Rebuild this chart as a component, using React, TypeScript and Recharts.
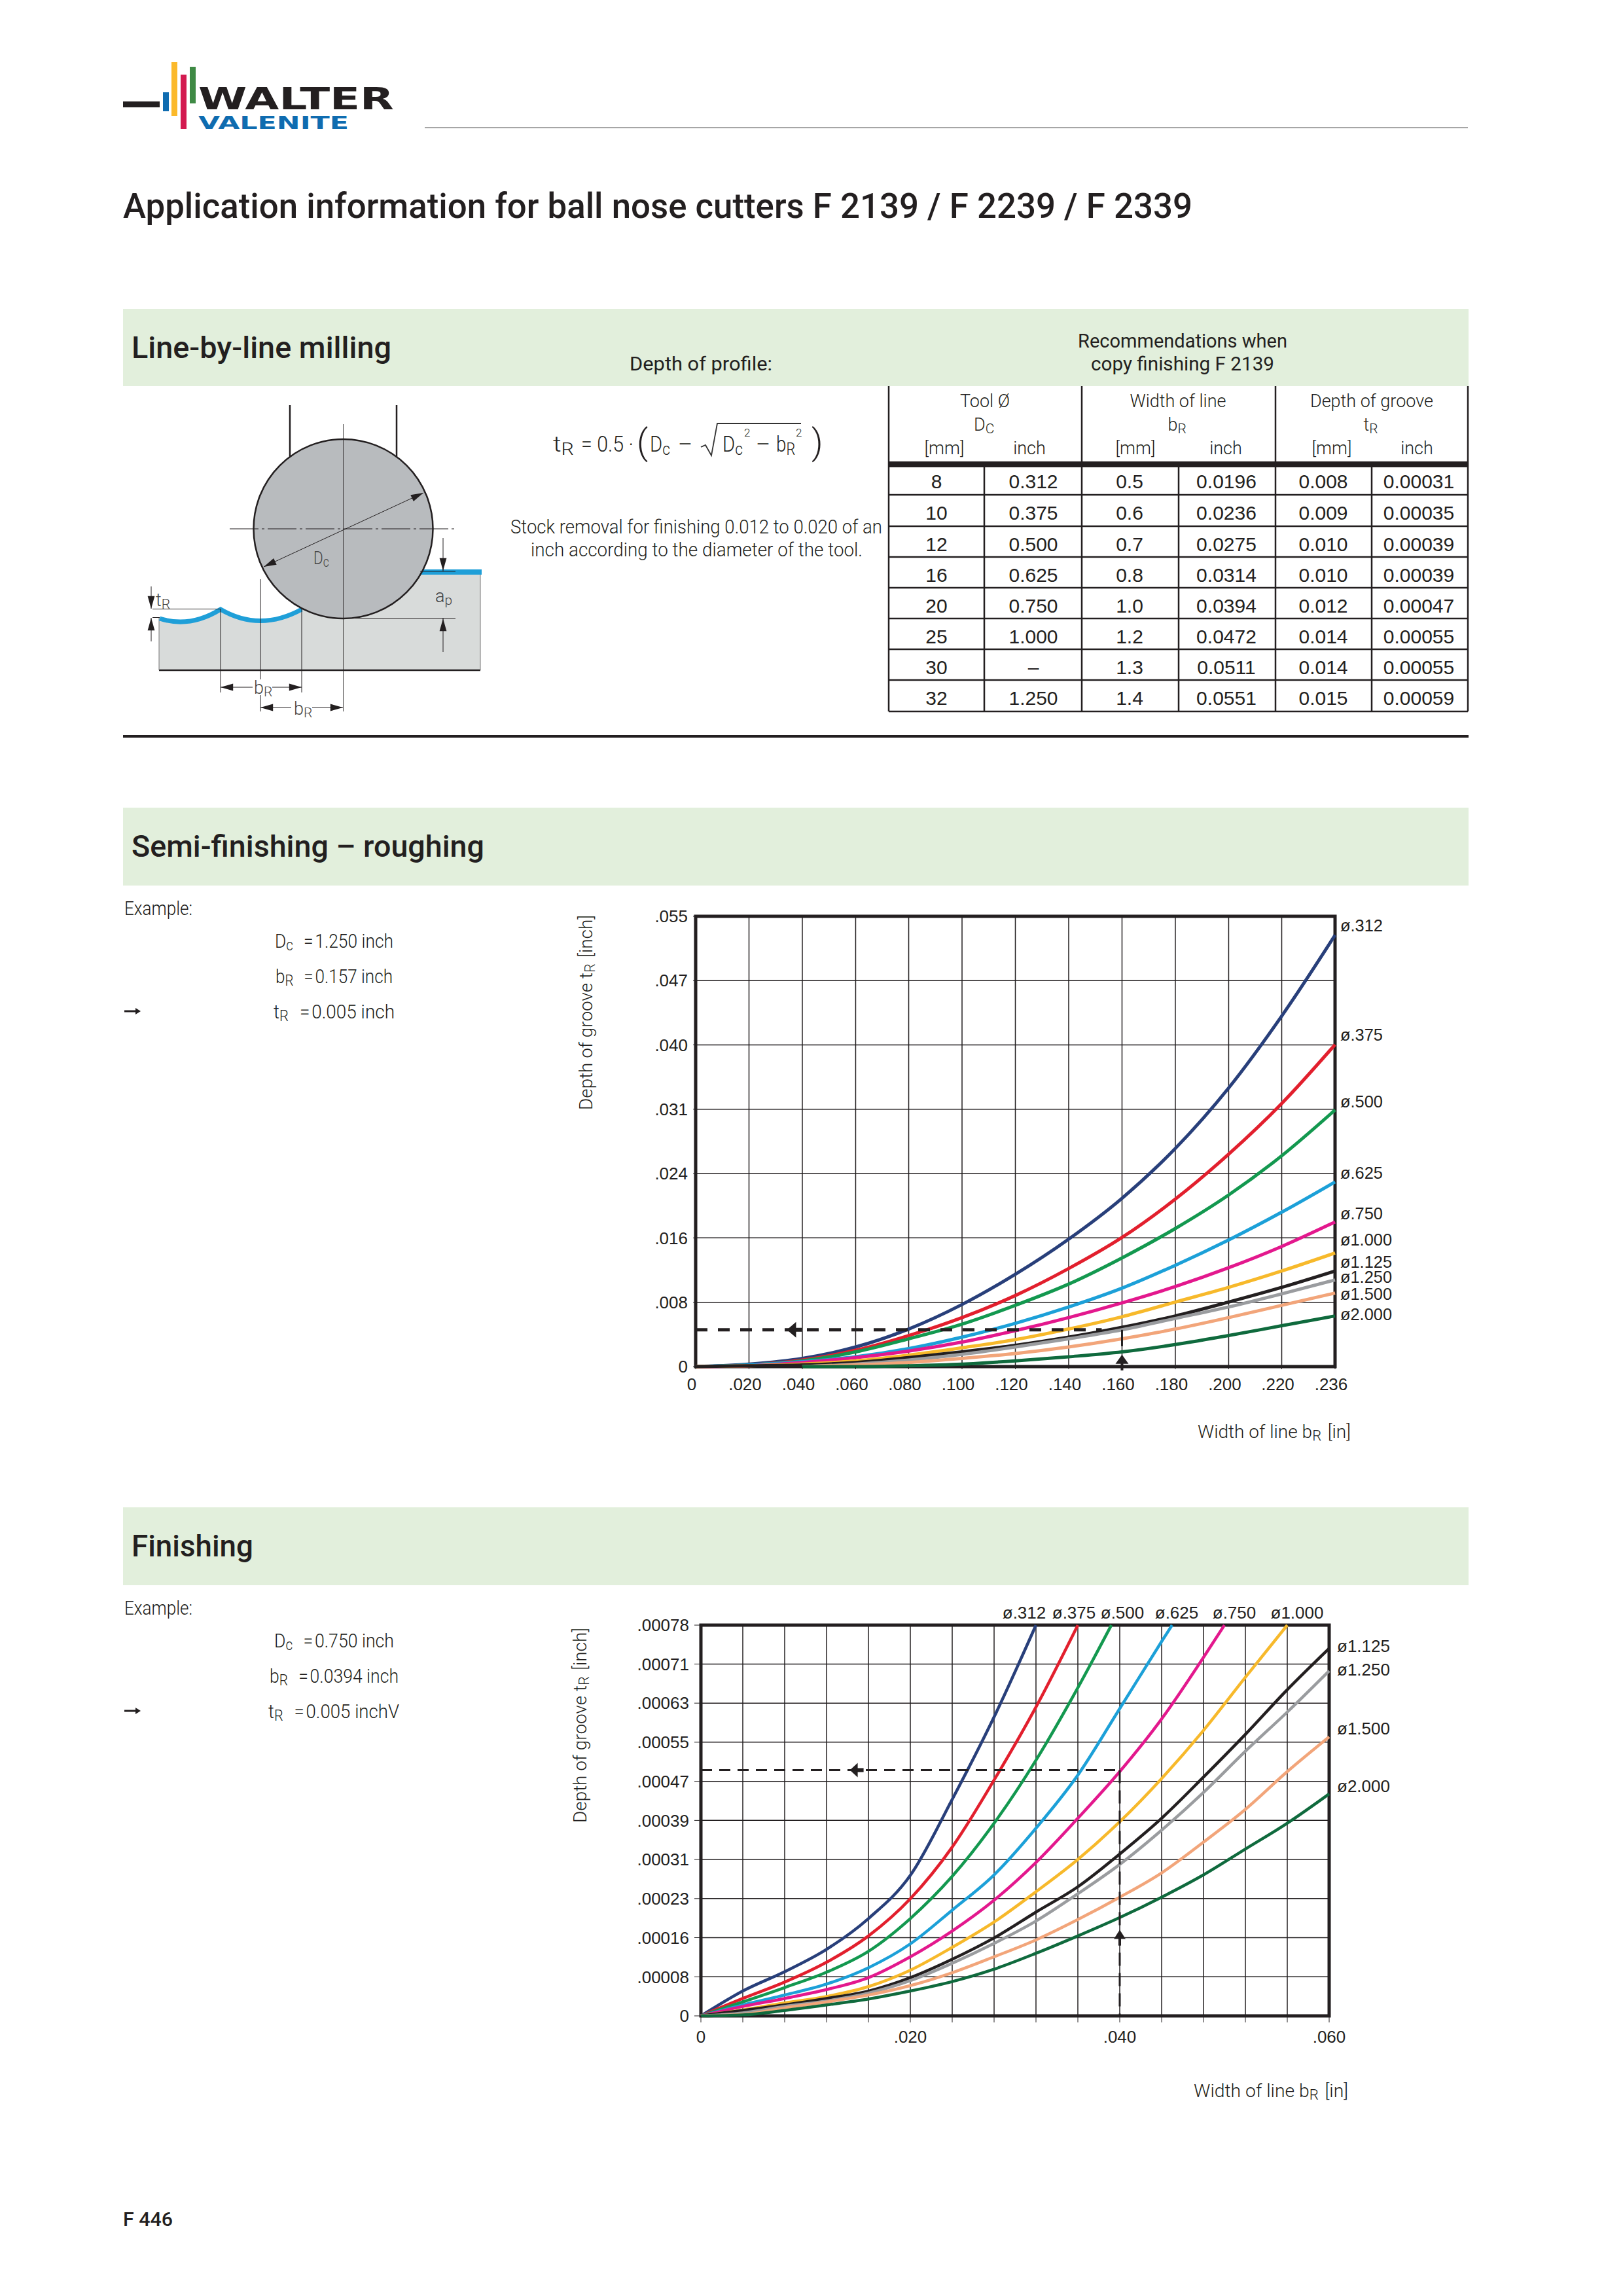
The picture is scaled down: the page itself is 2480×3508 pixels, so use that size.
import React from "react";
import {
  LineChart,
  Line,
  XAxis,
  YAxis,
  CartesianGrid,
  ReferenceArea,
  ReferenceLine,
  ReferenceDot,
} from "recharts";

const INK = "#231f20";
const BODY = "Roboto, sans-serif";
const NUM = "'Liberation Sans', Arial, sans-serif";

const curveNames = [".312", ".375", ".500", ".625", ".750", "1.000", "1.125", "1.250", "1.500", "2.000"];
const curveColors = ["#283f7a", "#e21f2d", "#13984f", "#1ca0d8", "#e3188d", "#f7b92b", "#231f20", "#9a9c9f", "#f2a57a", "#0f6a3d"];

// Semi-finishing chart, inch values read at each grid line
const semiX = [0, 0.0197, 0.0394, 0.0591, 0.0787, 0.0984, 0.1181, 0.1378, 0.1575, 0.1772, 0.1969, 0.2165, 0.2362];
const semiXLabels = ["0", ".020", ".040", ".060", ".080", ".100", ".120", ".140", ".160", ".180", ".200", ".220", ".236"];
const semiYTicks = [0, 0.00787, 0.01575, 0.02362, 0.0315, 0.03937, 0.04724, 0.0551];
const semiYLabels = ["0", ".008", ".016", ".024", ".031", ".040", ".047", ".055"];

const _ = null;
const semi312 = [0, 0.0003, 0.001, 0.0024, 0.0046, 0.0076, 0.0113, 0.0156, 0.0206, 0.0267, 0.0341, 0.0429, 0.0528];
const semi375 = [0, 0.0002, 0.0008, 0.002, 0.0038, 0.006, 0.0087, 0.012, 0.0158, 0.0205, 0.026, 0.0322, 0.0394];
const semi500 = [0, 0.0002, 0.0007, 0.0018, 0.0034, 0.0052, 0.0075, 0.0101, 0.0133, 0.0169, 0.021, 0.0258, 0.0314];
const semi625 = [0, 0.0002, 0.0006, 0.0012, 0.0022, 0.0036, 0.0053, 0.0073, 0.0096, 0.0124, 0.0155, 0.0189, 0.0226];
const semi750 = [0, 0.0001, 0.0005, 0.0011, 0.0019, 0.003, 0.0044, 0.006, 0.0078, 0.0098, 0.0121, 0.0147, 0.0177];
const semi1000 = [0, 0.0001, 0.0003, 0.0007, 0.0014, 0.0023, 0.0033, 0.0046, 0.0061, 0.0079, 0.0097, 0.0117, 0.0139];
const semi1125 = [0, 0.0001, 0.0002, 0.0005, 0.0011, 0.0018, 0.0026, 0.0036, 0.0048, 0.0062, 0.0079, 0.0097, 0.0117];
const semi1250 = [_, _, 0, 0.0003, 0.0008, 0.0015, 0.0024, 0.0034, 0.0045, 0.0059, 0.0073, 0.0089, 0.0106];
const semi1500 = [_, _, 0, 0.0002, 0.0005, 0.001, 0.0016, 0.0024, 0.0034, 0.0046, 0.006, 0.0075, 0.009];
const semi2000 = [_, _, 0, 0, 0.0001, 0.0003, 0.0007, 0.0012, 0.0018, 0.0027, 0.0038, 0.005, 0.0062];
const semiSeries = [semi312, semi375, semi500, semi625, semi750, semi1000, semi1125, semi1250, semi1500, semi2000];

// Finishing chart: curves stop where they leave the top of the plot, so the x list has a few extra stops
const finishX = [0, 0.004, 0.008, 0.012, 0.016, 0.02, 0.024, 0.028, 0.032, 0.036, 0.0392, 0.04, 0.044, 0.045, 0.048, 0.05, 0.052, 0.056, 0.06];
const finishXTicks = [0, 0.004, 0.008, 0.012, 0.016, 0.02, 0.024, 0.028, 0.032, 0.036, 0.04, 0.044, 0.048, 0.052, 0.056, 0.06];
const finishXLabels = ["0", "", "", "", "", ".020", "", "", "", "", ".040", "", "", "", "", ".060"];
const finishYTicks = [0, 0.0000787, 0.0001575, 0.0002362, 0.000315, 0.0003937, 0.0004724, 0.0005512, 0.0006299, 0.0007087, 0.000787];
const finishYLabels = ["0", ".00008", ".00016", ".00023", ".00031", ".00039", ".00047", ".00055", ".00063", ".00071", ".00078"];

const fin312 = [0, 0.00005, 0.000089, 0.000134, 0.000196, 0.000283, 0.000436, 0.000602, 0.000787, _, _, _, _, _, _, _, _, _, _];
const fin375 = [0, 0.000035, 0.000068, 0.000108, 0.000161, 0.000236, 0.00034, 0.000475, 0.000622, 0.000787, _, _, _, _, _, _, _, _, _];
const fin500 = [0, 0.000028, 0.000057, 0.000088, 0.00013, 0.000196, 0.000281, 0.000388, 0.000515, 0.000661, 0.000787, _, _, _, _, _, _, _, _];
const fin625 = [0, 0.000022, 0.000042, 0.000064, 0.000097, 0.000145, 0.000213, 0.000284, 0.000378, 0.000485, _, 0.000619, 0.000754, 0.000787, _, _, _, _, _];
const fin750 = [0, 0.000019, 0.000035, 0.000053, 0.000077, 0.000119, 0.000171, 0.000233, 0.000309, 0.000398, _, 0.000492, 0.000598, _, 0.000722, 0.000787, _, _, _];
const fin1000 = [0, 0.000012, 0.000026, 0.000039, 0.000059, 0.000092, 0.000138, 0.000189, 0.00025, 0.000315, _, 0.000391, 0.000478, _, 0.000575, _, 0.000682, 0.000787, _];
const fin1125 = [0, 0.000011, 0.000022, 0.000035, 0.00005, 0.000077, 0.000114, 0.000157, 0.000209, 0.00026, _, 0.000326, 0.000398, _, 0.000481, _, 0.000567, 0.000657, 0.00074];
const fin1250 = [0, 0.000006, 0.000019, 0.00003, 0.000046, 0.000071, 0.000106, 0.000146, 0.000191, 0.000246, _, 0.000305, 0.000374, _, 0.00045, _, 0.000533, 0.000612, 0.000695];
const fin1500 = [0, 0.000003, 0.000016, 0.000028, 0.000042, 0.000061, 0.000087, 0.000119, 0.000153, 0.000194, _, 0.000239, 0.000288, _, 0.00035, _, 0.000416, 0.000492, 0.000562];
const fin2000 = [0, 0.000002, 0.000011, 0.000022, 0.000034, 0.00005, 0.000069, 0.000094, 0.000126, 0.000161, _, 0.000198, 0.000239, _, 0.000284, _, 0.000336, 0.000388, 0.000447];
const finishSeries = [fin312, fin375, fin500, fin625, fin750, fin1000, fin1125, fin1250, fin1500, fin2000];

const semiRows = semiX.map((x, i) => {
  const row: any = { x };
  curveNames.forEach((n, s) => (row[n] = semiSeries[s][i]));
  return row;
});
const finishRows = finishX.map((x, i) => {
  const row: any = { x };
  curveNames.forEach((n, s) => (row[n] = finishSeries[s][i]));
  return row;
});

// Recommendation table
const tableRows = [
  ["8", "0.312", "0.5", "0.0196", "0.008", "0.00031"],
  ["10", "0.375", "0.6", "0.0236", "0.009", "0.00035"],
  ["12", "0.500", "0.7", "0.0275", "0.010", "0.00039"],
  ["16", "0.625", "0.8", "0.0314", "0.010", "0.00039"],
  ["20", "0.750", "1.0", "0.0394", "0.012", "0.00047"],
  ["25", "1.000", "1.2", "0.0472", "0.014", "0.00055"],
  ["30", "–", "1.3", "0.0511", "0.014", "0.00055"],
  ["32", "1.250", "1.4", "0.0551", "0.015", "0.00059"],
];
const tableColX = [1358, 1504, 1653, 1801, 1949, 2096, 2243];
const tableCellX = [1431, 1579, 1726, 1874, 2022, 2168];
const tableRowY = [714, 756, 804, 851, 898, 945, 992, 1039, 1087];

function LeftArrow({ cx, cy, len, half }: any) {
  return <path d={`M${cx - len / 2},${cy} L${cx + len / 2},${cy - half} L${cx + len / 2},${cy + half} Z M${cx + len / 2 - 1},${cy - 3} h10 v6 h-10 Z`} fill={INK} />;
}
function UpArrow({ cx, cy, len, half }: any) {
  return <path d={`M${cx},${cy - len / 2} L${cx + half},${cy + len / 2} L${cx - half},${cy + len / 2} Z M${cx - 2},${cy + len / 2} h4 v10 h-4 Z`} fill={INK} />;
}

function Txt({ x, y, size = 30, w, anchor = "start", weight = 300, font = BODY, fill = INK, children, ...rest }: any) {
  return (
    <text
      x={x}
      y={y}
      fontSize={size}
      fontFamily={font}
      fontWeight={weight}
      fill={fill}
      textAnchor={anchor}
      textLength={w}
      lengthAdjust={w ? "spacingAndGlyphs" : undefined}
      {...rest}
    >
      {children}
    </text>
  );
}

// letter with a lowered index, tR / bR / Dc
function Sub({ a, b }: { a: string; b: string }) {
  return (
    <>
      <tspan>{a}</tspan>
      <tspan fontSize="78%" dy="0.18em">{b}</tspan>
      <tspan dy="-0.14em">{"\u200a"}</tspan>
    </>
  );
}

function Arrow({ x1, y1, x2, y2, size = 12 }: any) {
  const ang = Math.atan2(y2 - y1, x2 - x1);
  const head = (x: number, y: number, a: number) => {
    const bx = x - Math.cos(a) * size * 1.6;
    const by = y - Math.sin(a) * size * 1.6;
    const nx = -Math.sin(a) * size * 0.45;
    const ny = Math.cos(a) * size * 0.45;
    return `M${x},${y} L${bx + nx},${by + ny} L${bx - nx},${by - ny} Z`;
  };
  return <path d={head(x2, y2, ang)} fill={INK} />;
}

function Diagram() {
  const thin = { stroke: INK, strokeWidth: 1, fill: "none" };
  return (
    <g>
      <path d="M243,944 Q290,958 337,931 Q397,965 461,931 L642,877 L734,877 L734,1024 L243,1024 Z" fill="#d8dbda" stroke="none" />
      <path d="M243,1024 H734" stroke={INK} strokeWidth={2.5} />
      <path d="M243,944 V1024 M734,877 V1024" {...thin} stroke="#777" />
      <path d="M244,945 Q290,960 337,931 Q397,966 461,931" fill="none" stroke="#1f9fd8" strokeWidth={7} />
      <rect x={640} y={870} width={96} height={8} fill="#1f9fd8" />
      <path d="M443,619 V700 M606,619 V700" stroke={INK} strokeWidth={2.5} />
      <circle cx={524.5} cy={808} r={137} fill="#b8bbbe" stroke={INK} strokeWidth={2.5} />
      <path d="M351,808 H698" stroke={INK} strokeWidth={1.2} strokeDasharray="44 5 4 5" />
      <path d="M524.5,648 V1087" stroke={INK} strokeWidth={0.8} />
      <path d="M403,866 L647,753" {...thin} />
      <Arrow x1={647} y1={753} x2={403} y2={866} />
      <Arrow x1={403} y1={866} x2={647} y2={753} />
      <Txt x={479} y={862} size={28} w={26} fill="#444"><Sub a="D" b="c" /></Txt>
      <path d="M337,930 V1058 M398,885 V1087 M461,930 V1058" {...thin} />
      <path d="M337,1050 H461 M398,1081 H524" {...thin} />
      <Arrow x1={461} y1={1050} x2={337} y2={1050} />
      <Arrow x1={337} y1={1050} x2={461} y2={1050} />
      <Arrow x1={524} y1={1081} x2={398} y2={1081} />
      <Arrow x1={398} y1={1081} x2={524} y2={1081} />
      <rect x={386} y={1038} width={30} height={24} fill="#fff" />
      <rect x={445} y={1068} width={32} height={26} fill="#fff" />
      <Txt x={388} y={1060} size={27} fill="#444"><Sub a="b" b="R" /></Txt>
      <Txt x={449} y={1092} size={27} fill="#444"><Sub a="b" b="R" /></Txt>
      <path d="M233,930.5 H337 M233,943.5 H244 M231,896 V930 M231,944 V980" {...thin} />
      <Arrow x1={231} y1={896} x2={231} y2={930} />
      <Arrow x1={231} y1={980} x2={231} y2={944} />
      <Txt x={238} y={926} size={27} fill="#444"><Sub a="t" b="R" /></Txt>
      <path d="M524,944.5 H696 M642,873 H696 M677,822 V873 M677,945 V996" {...thin} stroke={INK} />
      <Arrow x1={677} y1={822} x2={677} y2={872} />
      <Arrow x1={677} y1={996} x2={677} y2={945} />
      <Txt x={665} y={920} size={27} fill="#444"><Sub a="a" b="p" /></Txt>
    </g>
  );
}

function Formula() {
  return (
    <g>
      <Txt x={845} y={690} size={34} w={36}><Sub a="t" b="R" /></Txt>
      <Txt x={888} y={690} size={34} w={80}>= 0.5 ·</Txt>
      <Txt x={973} y={694} size={54}>(</Txt>
      <Txt x={993} y={690} size={34} w={34}><Sub a="D" b="c" /></Txt>
      <Txt x={1036} y={690} size={34}>–</Txt>
      <path d="M1071,683 L1078,680 L1087,696 L1096,647 H1224" fill="none" stroke="#333" strokeWidth={1.8} />
      <Txt x={1104} y={690} size={34} w={34}><Sub a="D" b="c" /></Txt>
      <Txt x={1137} y={667} size={17}>2</Txt>
      <Txt x={1155} y={690} size={34}>–</Txt>
      <Txt x={1186} y={690} size={34} w={32}><Sub a="b" b="R" /></Txt>
      <Txt x={1216} y={667} size={17}>2</Txt>
      <Txt x={1240} y={694} size={54}>)</Txt>
    </g>
  );
}

function Table() {
  const heads = [
    { x: 1505, mm: 1443, inch: 1573, a: "Tool Ø", s: ["D", "C"] },
    { x: 1800, mm: 1735, inch: 1873, a: "Width of line", s: ["b", "R"] },
    { x: 2096, mm: 2035, inch: 2165, a: "Depth of groove", s: ["t", "R"] },
  ];
  return (
    <g>
      {heads.map((h) => (
        <g key={h.a}>
          <Txt x={h.x} y={622} size={27} anchor="middle">{h.a}</Txt>
          <Txt x={h.x} y={658} size={27} anchor="middle"><Sub a={h.s[0]} b={h.s[1]} /></Txt>
          <Txt x={h.mm} y={694} size={27} anchor="middle">[mm]</Txt>
          <Txt x={h.inch} y={694} size={27} anchor="middle">inch</Txt>
        </g>
      ))}
      <rect x={tableColX[0]} y={705} width={tableColX[6] - tableColX[0]} height={9} fill={INK} />
      {[0, 2, 4, 6].map((c) => (
        <line key={c} x1={tableColX[c]} x2={tableColX[c]} y1={590} y2={1087} stroke={INK} strokeWidth={2.5} />
      ))}
      {[1, 3, 5].map((c) => (
        <line key={c} x1={tableColX[c]} x2={tableColX[c]} y1={714} y2={1087} stroke={INK} strokeWidth={2.5} />
      ))}
      {tableRowY.slice(1).map((y) => (
        <line key={y} x1={tableColX[0]} x2={tableColX[6]} y1={y} y2={y} stroke={INK} strokeWidth={2.5} />
      ))}
      {tableRows.map((row, r) =>
        row.map((v, c) => (
          <Txt key={c} x={tableCellX[c]} y={(tableRowY[r] + tableRowY[r + 1]) / 2 + (r === 0 ? 11 : 14)} size={30} font={NUM} anchor="middle">{v}</Txt>
        ))
      )}
    </g>
  );
}

function Logo() {
  return (
    <g>
      <rect x={188} y={155} width={56} height={9} fill={INK} />
      <rect x={249} y={141} width={9} height={29} fill="#0f6cb0" />
      <rect x={262} y={95} width={9} height={82} fill="#fbb92b" />
      <rect x={276} y={114} width={9} height={83} fill="#d31a50" />
      <rect x={290} y={102} width={9} height={56} fill="#3f8a45" />
      <Txt x={303} y={167} size={46} w={299} weight={700} font="'DejaVu Sans', sans-serif">WALTER</Txt>
      <Txt x={303} y={197} size={27} w={230} weight={700} font="'DejaVu Sans', sans-serif" fill="#0f6cb0">VALENITE</Txt>
    </g>
  );
}

function Example({ y, rows }: { y: number; rows: any[] }) {
  return (
    <g>
      <Txt x={190} y={y} size={29} w={104}>Example:</Txt>
      {rows.map((r, i) => (
        <Txt key={i} x={r.x} y={y + 50 + i * 54} size={30} w={r.w}>
          <Sub a={r.a} b={r.b} />
          <tspan>{"\u2002=\u200a" + r.text}</tspan>
        </Txt>
      ))}
      <path d={`M190,${y + 147} h20`} stroke={INK} strokeWidth={3} />
      <path d={`M215,${y + 147} l-8,-5 v10 Z`} fill={INK} />
    </g>
  );
}

const tickStyle = { fontFamily: NUM, fontSize: 26, fill: INK };

function SemiChart() {
  return (
    <div style={{ position: "absolute", left: 900, top: 1360 }}>
      <LineChart width={1200} height={820} data={semiRows} margin={{ top: 40, right: 60, bottom: 0, left: 0 }}>
        <CartesianGrid stroke={INK} strokeWidth={1.5} />
        <XAxis
          dataKey="x"
          type="number"
          domain={[0, 0.2362]}
          ticks={semiX}
          interval={0}
          height={92}
          tickSize={4}
          tickMargin={14}
          tick={{ ...tickStyle, dx: -6 }}
          tickLine={{ stroke: INK }}
          axisLine={false}
          tickFormatter={(v: number) => semiXLabels[semiX.indexOf(v)]}
        />
        <YAxis
          type="number"
          domain={[0, 0.0551]}
          ticks={semiYTicks}
          interval={0}
          width={163}
          tickSize={4}
          tickMargin={8}
          tick={tickStyle}
          tickLine={{ stroke: INK }}
          axisLine={false}
          tickFormatter={(v: number) => semiYLabels[semiYTicks.indexOf(v)]}
        />
        <ReferenceArea x1={0} x2={0.2362} y1={0} y2={0.0551} fill="none" stroke={INK} strokeWidth={5} />
        {curveNames.map((n, i) => (
          <Line key={n} dataKey={n} type="monotone" stroke={curveColors[i]} strokeWidth={5} dot={false} connectNulls isAnimationActive={false} />
        ))}
        <ReferenceLine segment={[{ x: 0, y: 0.0045 }, { x: 0.15, y: 0.0045 }]} stroke={INK} strokeWidth={5} strokeDasharray="18 16" />
        <ReferenceLine segment={[{ x: 0.1575, y: 0.0045 }, { x: 0.1575, y: 0.0025 }]} stroke={INK} strokeWidth={3} />
        <ReferenceDot x={0.0354} y={0.0045} r={1} shape={(p: any) => <LeftArrow {...p} len={14} half={12} />} />
        <ReferenceDot x={0.1575} y={0.0009} r={1} shape={(p: any) => <UpArrow {...p} len={14} half={10} />} />
      </LineChart>
    </div>
  );
}

function FinishChart() {
  return (
    <div style={{ position: "absolute", left: 900, top: 2440 }}>
      <LineChart width={1200} height={760} data={finishRows} margin={{ top: 43, right: 69, bottom: 0, left: 0 }}>
        <CartesianGrid stroke={INK} strokeWidth={1.5} />
        <XAxis
          dataKey="x"
          type="number"
          domain={[0, 0.06]}
          ticks={finishXTicks}
          interval={0}
          height={120}
          tickSize={10}
          tickMargin={13}
          tick={tickStyle}
          tickLine={{ stroke: INK }}
          axisLine={false}
          tickFormatter={(v: number) => finishXLabels[finishXTicks.indexOf(v)]}
        />
        <YAxis
          type="number"
          domain={[0, 0.000787]}
          ticks={finishYTicks}
          interval={0}
          width={171}
          tickSize={10}
          tickMargin={8}
          tick={tickStyle}
          tickLine={{ stroke: INK }}
          axisLine={false}
          tickFormatter={(v: number) => finishYLabels[finishYTicks.indexOf(v)]}
        />
        <ReferenceArea x1={0} x2={0.06} y1={0} y2={0.000787} fill="none" stroke={INK} strokeWidth={5} />
        {curveNames.map((n, i) => (
          <Line key={n} dataKey={n} type="monotone" stroke={curveColors[i]} strokeWidth={4.5} dot={false} connectNulls isAnimationActive={false} />
        ))}
        <ReferenceLine segment={[{ x: 0, y: 0.000495 }, { x: 0.0396, y: 0.000495 }]} stroke={INK} strokeWidth={3} strokeDasharray="17 11" />
        <ReferenceLine segment={[{ x: 0.04, y: 0.000495 }, { x: 0.04, y: 0 }]} stroke={INK} strokeWidth={3} strokeDasharray="20 11" />
        <ReferenceDot x={0.0146} y={0.000495} r={1} shape={(p: any) => <LeftArrow {...p} len={12} half={11} />} />
        <ReferenceDot x={0.04} y={0.000164} r={1} shape={(p: any) => <UpArrow {...p} len={14} half={9} />} />
      </LineChart>
    </div>
  );
}

const semiLabelY = [1413, 1580, 1682, 1791, 1853, 1893, 1927, 1950, 1976, 2007];
const finishTopX = [1565, 1641, 1715, 1798, 1886, 1982];
const finishSideY = [2514, 2550, 2640, 2728];

function phi(name: string) {
  return "ø" + name;
}

export default function App() {
  return (
    <div style={{ position: "absolute", left: 0, top: 0, width: 2480, height: 3508, background: "#fff", overflow: "hidden" }}>
      <SemiChart />
      <FinishChart />
      <svg width={2480} height={3508} style={{ position: "absolute", left: 0, top: 0, pointerEvents: "none" }}>
        <Logo />
        <line x1={649} x2={2243} y1={195} y2={195} stroke="#888" strokeWidth={1.5} />
        <Txt x={188} y={333} size={54} w={1634} weight={500}>Application information for ball nose cutters F 2139 / F 2239 / F 2339</Txt>

        <rect x={188} y={472} width={2056} height={118} fill="#e2efdc" />
        <rect x={188} y={1234} width={2056} height={119} fill="#e2efdc" />
        <rect x={188} y={2303} width={2056} height={119} fill="#e2efdc" />
        <Txt x={201} y={547} size={46} w={397} weight={500}>Line-by-line milling</Txt>
        <Txt x={201} y={1309} size={46} w={539} weight={500}>Semi-finishing – roughing</Txt>
        <Txt x={201} y={2378} size={46} w={186} weight={500}>Finishing</Txt>
        <Txt x={962} y={566} size={30} w={218} weight={400}>Depth of profile:</Txt>
        <Txt x={1647} y={531} size={30} w={320} weight={400}>Recommendations when</Txt>
        <Txt x={1667} y={566} size={30} w={280} weight={400}>copy finishing F 2139</Txt>

        <Diagram />
        <Formula />
        <Txt x={780} y={815} size={30} w={568}>Stock removal for finishing 0.012 to 0.020 of an</Txt>
        <Txt x={811} y={850} size={30} w={507}>inch according to the diameter of the tool.</Txt>
        <Table />
        <rect x={188} y={1123} width={2056} height={4} fill={INK} />

        <Example
          y={1398}
          rows={[
            { x: 420, w: 181, a: "D", b: "c", text: "1.250 inch" },
            { x: 421, w: 179, a: "b", b: "R", text: "0.157 inch" },
            { x: 418, w: 185, a: "t", b: "R", text: "0.005 inch" },
          ]}
        />
        <Example
          y={2467}
          rows={[
            { x: 419, w: 183, a: "D", b: "c", text: "0.750 inch" },
            { x: 412, w: 197, a: "b", b: "R", text: "0.0394 inch" },
            { x: 410, w: 200, a: "t", b: "R", text: "0.005 inchV" },
          ]}
        />

        {curveNames.map((n, i) => (
          <Txt key={n} x={2048} y={semiLabelY[i] + 10} size={26} font={NUM} w={n.length === 4 ? 65 : 79}>{phi(n)}</Txt>
        ))}
        {curveNames.slice(0, 6).map((n, i) => (
          <Txt key={n} x={finishTopX[i]} y={2473} size={26} font={NUM} anchor="middle">{phi(n)}</Txt>
        ))}
        {curveNames.slice(6).map((n, i) => (
          <Txt key={n} x={2043} y={finishSideY[i] + 10} size={26} font={NUM}>{phi(n)}</Txt>
        ))}

        <g transform="translate(905,1696) rotate(-90)">
          <Txt x={0} y={0} size={28} w={298}><tspan>Depth of groove </tspan><Sub a="t" b="R" /><tspan> [inch]</tspan></Txt>
        </g>
        <g transform="translate(896,2785) rotate(-90)">
          <Txt x={0} y={0} size={28} w={298}><tspan>Depth of groove </tspan><Sub a="t" b="R" /><tspan> [inch]</tspan></Txt>
        </g>
        <Txt x={1830} y={2197} size={28} w={234}><tspan>Width of line </tspan><Sub a="b" b="R" /><tspan> [in]</tspan></Txt>
        <Txt x={1824} y={3204} size={28} w={236}><tspan>Width of line </tspan><Sub a="b" b="R" /><tspan> [in]</tspan></Txt>

        <Txt x={188} y={3401} size={30} w={76} weight={500}>F 446</Txt>
      </svg>
    </div>
  );
}
